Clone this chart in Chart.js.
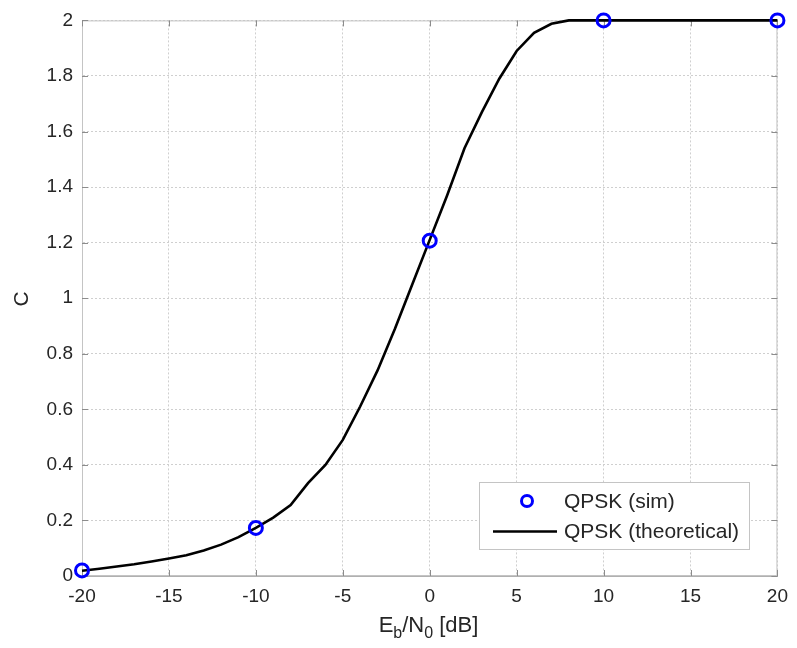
<!DOCTYPE html>
<html>
<head>
<meta charset="utf-8">
<script src="https://cdn.jsdelivr.net/npm/chart.js@4.4.1/dist/chart.umd.min.js"></script>
<style>
  html, body { margin: 0; padding: 0; background: #fff; }
  #wrap { width: 797px; height: 648px; }
</style>
</head>
<body>
<div id="wrap"><canvas id="capChart" width="797" height="648"></canvas></div>
<script>
// Eb/N0 grid of the theoretical curve [dB]
const ebnoDb = [-20, -19, -18, -17, -16, -15, -14, -13, -12, -11, -10, -9, -8, -7, -6, -5, -4, -3, -2, -1,
                0, 1, 2, 3, 4, 5, 6, 7, 8, 9, 10, 11, 12, 13, 14, 15, 16, 17, 18, 19, 20];
// QPSK capacity, theoretical
const capTheory = [0.019, 0.026, 0.034, 0.042, 0.052, 0.063, 0.075, 0.092, 0.113, 0.140, 0.173, 0.210, 0.255,
                   0.334, 0.400, 0.490, 0.610, 0.740, 0.890, 1.050, 1.210, 1.370, 1.540, 1.670, 1.790, 1.890,
                   1.955, 1.988, 2.000, 2.000, 2.000, 2.000, 2.000, 2.000, 2.000, 2.000, 2.000, 2.000, 2.000,
                   2.000, 2.000];
// QPSK capacity, simulated
const simDb = [-20, -10, 0, 10, 20];
const capSim = [0.02, 0.173, 1.207, 2.0, 2.0];

const xTicks = [-20, -15, -10, -5, 0, 5, 10, 15, 20];
const yTicks = [0, 0.2, 0.4, 0.6, 0.8, 1, 1.2, 1.4, 1.6, 1.8, 2];

const FONT = '"Liberation Sans", Arial, sans-serif';
const TEXT = '#262626';

// box, inward ticks, axis titles and legend, matlab style
const matlabDecor = {
    id: 'matlabDecor',
    beforeDatasetsDraw(chart) {
        const { ctx, chartArea: a, scales } = chart;
        ctx.save();
        ctx.strokeStyle = '#c4c4c4';
        ctx.lineWidth = 1;
        ctx.strokeRect(a.left + 0.5, a.top + 0.5, a.right - a.left - 1, a.bottom - a.top - 1);
        ctx.strokeStyle = '#8c8c8c';
        ctx.beginPath();
        xTicks.forEach(v => {
            const px = Math.round(scales.x.getPixelForValue(v)) + 0.5;
            ctx.moveTo(px, a.bottom); ctx.lineTo(px, a.bottom - 6);
            ctx.moveTo(px, a.top); ctx.lineTo(px, a.top + 6);
        });
        yTicks.forEach(v => {
            const py = Math.round(scales.y.getPixelForValue(v)) + 0.5;
            ctx.moveTo(a.left, py); ctx.lineTo(a.left + 6, py);
            ctx.moveTo(a.right, py); ctx.lineTo(a.right - 6, py);
        });
        ctx.stroke();
        ctx.restore();
    },
    afterDraw(chart) {
        const { ctx } = chart;
        ctx.save();
        ctx.fillStyle = TEXT;
        ctx.textBaseline = 'alphabetic';

        // x title: E_b/N_0 [dB]
        const big = '22px ' + FONT, small = '16px ' + FONT;
        const parts = [['E', big, 0], ['b', small, 6], ['/N', big, 0], ['0', small, 6], [' [dB]', big, 0]];
        let total = 0;
        parts.forEach(p => { ctx.font = p[1]; total += ctx.measureText(p[0]).width; });
        let x = 428.5 - total / 2;
        parts.forEach(p => {
            ctx.font = p[1];
            ctx.fillText(p[0], x, 632 + p[2]);
            x += ctx.measureText(p[0]).width;
        });

        // y title
        ctx.save();
        ctx.translate(28, 299);
        ctx.rotate(-Math.PI / 2);
        ctx.font = '21px ' + FONT;
        ctx.textAlign = 'center';
        ctx.fillText('C', 0, 0);
        ctx.restore();

        // legend
        const lx = 479.5, ly = 482.5, lw = 270, lh = 67;
        ctx.fillStyle = '#fff';
        ctx.fillRect(lx, ly, lw, lh);
        ctx.strokeStyle = '#c4c4c4';
        ctx.lineWidth = 1;
        ctx.strokeRect(lx, ly, lw, lh);

        const dsSim = chart.data.datasets[0], dsTh = chart.data.datasets[1];
        ctx.strokeStyle = dsSim.borderColor;
        ctx.lineWidth = dsSim.borderWidth;
        ctx.beginPath();
        ctx.arc(527, 501, 5.5, 0, Math.PI * 2);
        ctx.stroke();

        ctx.strokeStyle = dsTh.borderColor;
        ctx.lineWidth = dsTh.borderWidth;
        ctx.beginPath();
        ctx.moveTo(493, 531.5); ctx.lineTo(557, 531.5);
        ctx.stroke();

        ctx.fillStyle = TEXT;
        ctx.font = '21px ' + FONT;
        ctx.textBaseline = 'middle';
        ctx.fillText(dsSim.label, 564, 502);
        ctx.fillText(dsTh.label, 564, 532);
        ctx.restore();
    }
};

new Chart(document.getElementById('capChart'), {
    type: 'scatter',
    data: {
        datasets: [
            {
                label: 'QPSK (sim)',
                data: simDb.map((x, i) => ({ x: x, y: capSim[i] })),
                showLine: false,
                borderColor: '#0000ff',
                backgroundColor: 'rgba(0,0,0,0)',
                borderWidth: 3,
                pointRadius: 6.5,
                pointHoverRadius: 6.5,
                clip: false,
                order: 0
            },
            {
                label: 'QPSK (theoretical)',
                data: ebnoDb.map((x, i) => ({ x: x, y: capTheory[i] })),
                showLine: true,
                borderColor: '#000000',
                backgroundColor: '#000000',
                borderWidth: 2.6,
                pointRadius: 0,
                tension: 0,
                clip: false,
                order: 1
            }
        ]
    },
    options: {
        responsive: false,
        animation: false,
        events: [],
        layout: { padding: { top: 20, right: 18, left: 0, bottom: 0 } },
        plugins: { legend: { display: false }, tooltip: { enabled: false } },
        scales: {
            x: {
                type: 'linear',
                min: -20, max: 20,
                afterBuildTicks: axis => { axis.ticks = xTicks.map(v => ({ value: v })); },
                afterFit: axis => { axis.height = 72; },
                grid: { color: '#cfcfcf', lineWidth: 1, drawTicks: false },
                border: { color: '#b0b0b0', dash: [2, 2] },
                ticks: { padding: 9, color: TEXT, font: { family: FONT, size: 19 }, maxRotation: 0 }
            },
            y: {
                type: 'linear',
                min: 0, max: 2,
                afterBuildTicks: axis => { axis.ticks = yTicks.map(v => ({ value: v })); },
                afterFit: axis => { axis.width = 82; },
                grid: { color: '#cfcfcf', lineWidth: 1, drawTicks: false },
                border: { color: '#b0b0b0', dash: [2, 2] },
                ticks: {
                    padding: 9, color: TEXT, font: { family: FONT, size: 19 },
                    callback: v => String(Number(v.toFixed(1)))
                }
            }
        }
    },
    plugins: [matlabDecor]
});
</script>
</body>
</html>
